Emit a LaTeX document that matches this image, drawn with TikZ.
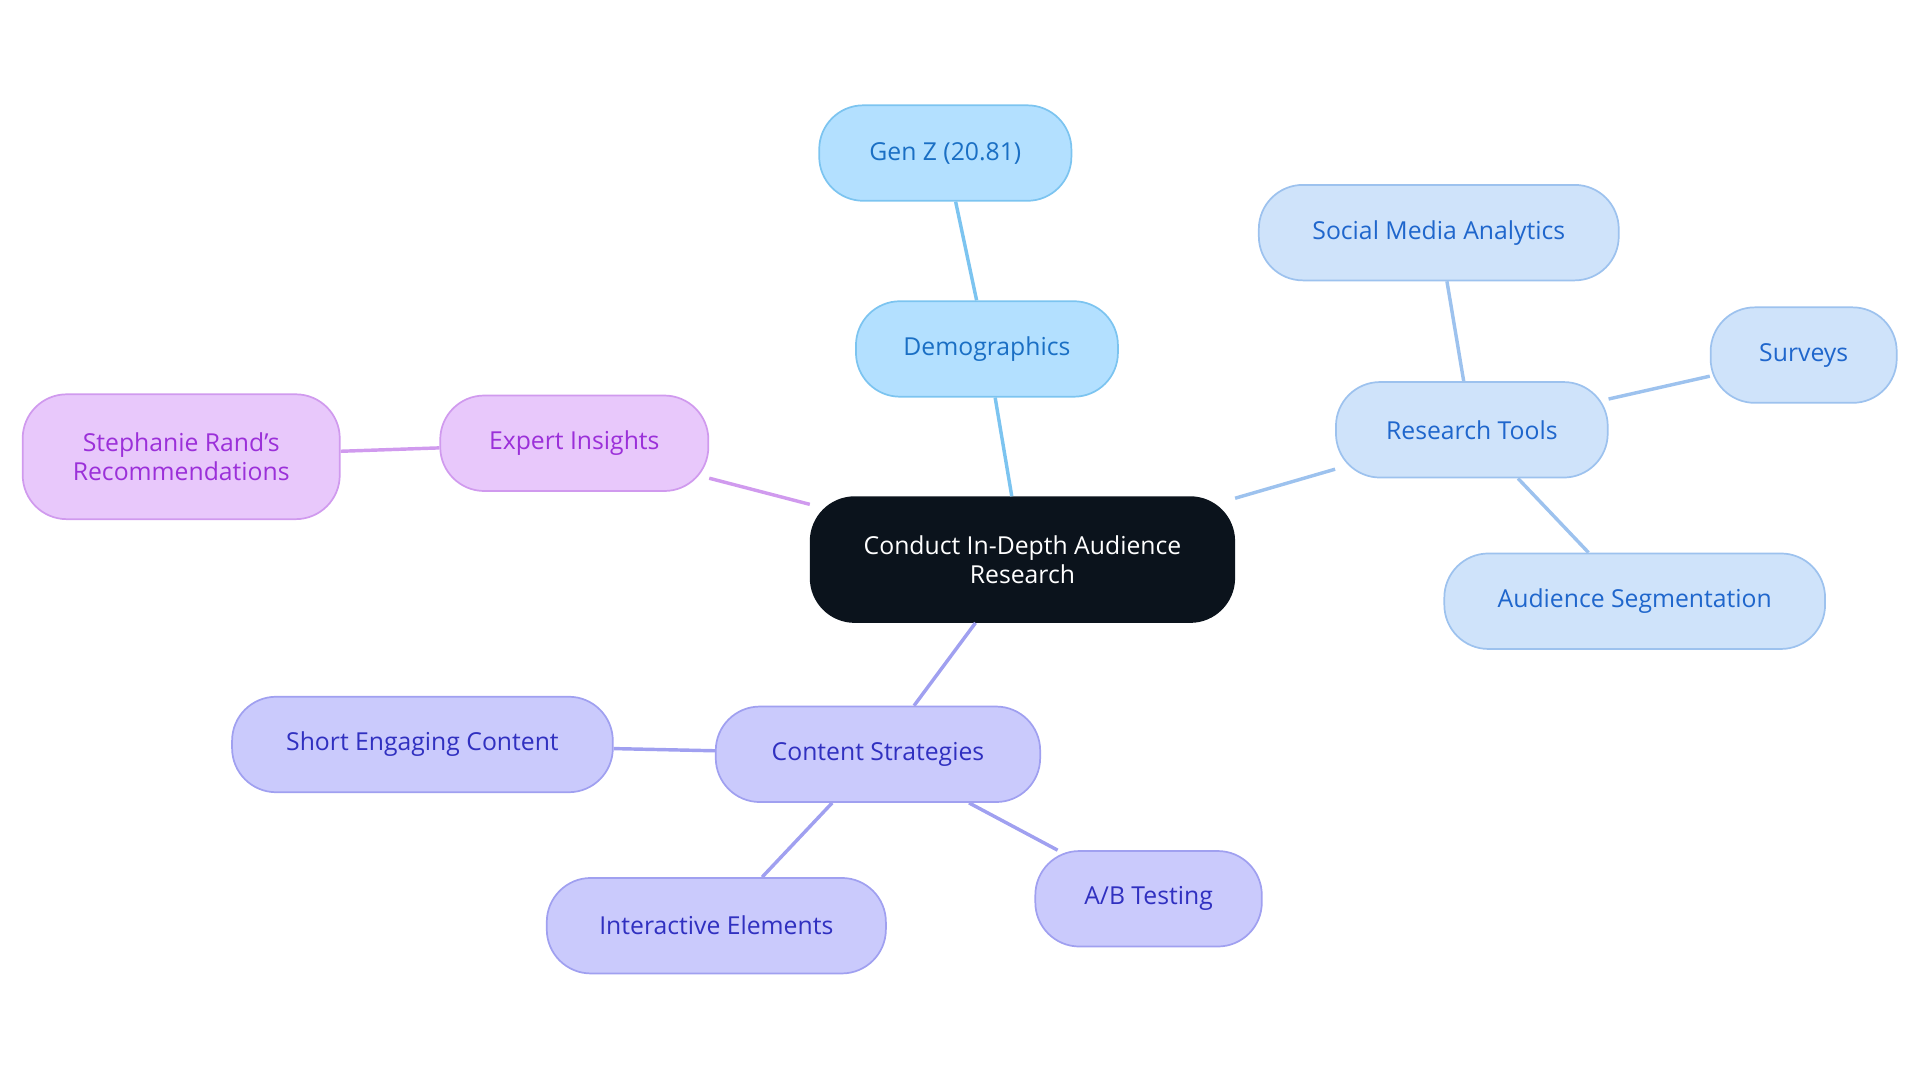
\documentclass[tikz,border=0pt]{standalone}
\usepackage{fontspec}
\setmainfont{Open Sans}
\definecolor{ctr}{HTML}{0B131C}
\definecolor{bF}{HTML}{B3E0FF}\definecolor{bD}{HTML}{7CC4F0}\definecolor{bT}{HTML}{1A6FC4}
\definecolor{lF}{HTML}{CFE3FA}\definecolor{lD}{HTML}{9DC2EE}\definecolor{lT}{HTML}{1F66CC}
\definecolor{pF}{HTML}{E8C8FB}\definecolor{pD}{HTML}{D09AEE}\definecolor{pT}{HTML}{9B30D9}
\definecolor{vF}{HTML}{CACAFC}\definecolor{vD}{HTML}{A0A0F0}\definecolor{vT}{HTML}{3030C0}
\begin{document}
\begin{tikzpicture}[x=0.02cm,y=-0.02cm,
 box/.style={rounded corners=0.72cm,minimum height=1.56cm,align=center,font=\fontsize{11.5}{13.5}\selectfont,line width=0.8pt,inner sep=0pt},
 blu/.style={box,fill=bF,draw=bD,text=bT},
 lbl/.style={box,fill=lF,draw=lD,text=lT},
 pur/.style={box,fill=pF,draw=pD,text=pT},
 vio/.style={box,fill=vF,draw=vD,text=vT},
 e/.style={line width=1.6pt}]
\useasboundingbox (0,0) rectangle (1568,884);
\node[box,fill=ctr,draw=ctr,text=white,minimum width=6.92cm,minimum height=2.04cm] (c) at (835,457) {Conduct In-Depth Audience\\Research};
\node[blu,minimum width=4.28cm] (d) at (806,285) {Demographics};
\node[blu,minimum width=4.12cm] (g) at (772,125) {Gen Z (20.81)};
\node[lbl,minimum width=4.44cm] (r) at (1202,351) {Research Tools};
\node[lbl,minimum width=5.88cm] (s) at (1175,190) {Social Media Analytics};
\node[lbl,minimum width=3.04cm] (sv) at (1473,290) {Surveys};
\node[lbl,minimum width=6.22cm] (a) at (1335,491) {Audience Segmentation};
\node[pur,minimum width=4.38cm] (x) at (469,362) {Expert Insights};
\node[pur,minimum width=5.18cm,minimum height=2.04cm] (st) at (148,373) {Stephanie Rand's\\Recommendations};
\node[vio,minimum width=5.3cm] (cs) at (717,616) {Content Strategies};
\node[vio,minimum width=6.22cm] (sh) at (345,608) {Short Engaging Content};
\node[vio,minimum width=5.54cm] (ie) at (585,756) {Interactive Elements};
\node[vio,minimum width=3.7cm] (ab) at (938,734) {A/B Testing};
\begin{scope}[on background layer/.code={}]
\end{scope}
\draw[e,bD] (c) -- (d); \draw[e,bD] (d) -- (g);
\draw[e,lD] (c) -- (r); \draw[e,lD] (r) -- (s); \draw[e,lD] (r) -- (sv); \draw[e,lD] (r) -- (a);
\draw[e,pD] (c) -- (x); \draw[e,pD] (x) -- (st);
\draw[e,vD] (c) -- (cs); \draw[e,vD] (cs) -- (sh); \draw[e,vD] (cs) -- (ie); \draw[e,vD] (cs) -- (ab);
\end{tikzpicture}
\end{document}
